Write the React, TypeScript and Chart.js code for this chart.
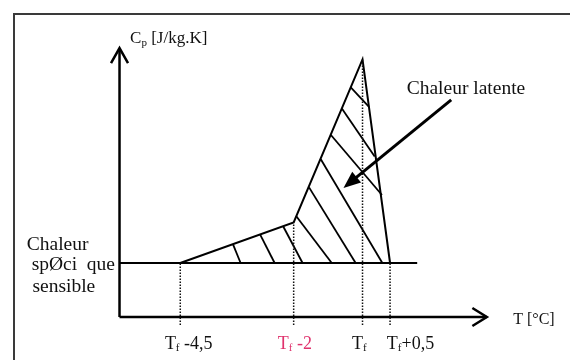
import React, { useEffect, useRef } from "react";
import { Chart, registerables } from "chart.js";

Chart.register(...registerables);

// Schematic positions (temperature offsets from Tf, Cp in arbitrary units)
const curveT = [-4.5, -1.7, 0, 0.68];
const curveCp = [1, 1.75, 4.77, 1];
const sensibleCp = 1;
const baselineT = [-6.0, 1.35];
const axisOriginT = -6.0;
const xAxisEndT = 3.07;
const yAxisEndCp = 4.98;
const dottedBottomCp = -0.15;

const hatchStartT = [-3.2, -2.53, -1.96, -1.63, -1.32, -1.03, -0.78, -0.51, -0.29];
const hatchStartCp = [1.35, 1.53, 1.68, 1.86, 2.4, 2.92, 3.37, 3.86, 4.25];
const hatchEndT = [-3.01, -2.17, -1.48, -0.76, -0.17, 0.49, 0.48, 0.3, 0.16];
const hatchEndCp = [1, 1, 1, 1, 1, 1, 2.26, 2.97, 3.89];

const latentArrowT = [2.19, -0.47];
const latentArrowCp = [4.02, 2.39];

const tickLabelT = [-4.88, -2.09, -0.26, 0.6];
const tickLabelCp = -0.59;
const tickMain = ["T", "T", "T", "T"];
const tickSub = ["f", "f", "f", "f"];
const tickRest = [" -4,5", " -2", "", "+0,5"];
const tickColors = ["#111111", "#e0336d", "#111111", "#111111"];

const yTitleT = -5.74;
const yTitleCp = 5.08;
const xTitle = "T [°C]";
const xTitleT = 3.72;
const xTitleCp = -0.13;

const latentLabel = "Chaleur latente";
const latentLabelT = 1.09;
const latentLabelCp = 4.13;

const sensibleLines = ["Chaleur", "spØci  que", "sensible"];
const sensibleLineT = [-8.29, -8.17, -8.15];
const sensibleLineCp = [1.24, 0.87, 0.46];

const X_MIN = -8.951;
const X_MAX = 5.123;
const Y_MIN = -0.796;
const Y_MAX = 5.87;

const SERIF = '"Liberation Serif", "Times New Roman", serif';

type Run = { text: string; size: number; dy?: number; color?: string };

function drawRuns(ctx: CanvasRenderingContext2D, x: number, y: number, runs: Run[]) {
  let cx = x;
  for (const r of runs) {
    ctx.font = `${r.size}px ${SERIF}`;
    ctx.fillStyle = r.color || "#111111";
    ctx.fillText(r.text, cx, y + (r.dy || 0));
    cx += ctx.measureText(r.text).width;
  }
}

const schematicPlugin = {
  id: "schematic",
  afterDatasetsDraw(chart: any) {
    const { ctx } = chart;
    const xs = chart.scales.x;
    const ys = chart.scales.y;
    const px = (v: number) => xs.getPixelForValue(v);
    const py = (v: number) => ys.getPixelForValue(v);
    ctx.save();
    ctx.strokeStyle = "#000";
    ctx.fillStyle = "#000";
    ctx.lineWidth = 2.5;
    ctx.lineJoin = "miter";

    // Y axis arrowhead
    const yx = px(axisOriginT);
    const yy = py(yAxisEndCp);
    ctx.beginPath();
    ctx.moveTo(yx - 8.5, yy + 15);
    ctx.lineTo(yx, yy);
    ctx.lineTo(yx + 8.5, yy + 15);
    ctx.stroke();

    // X axis arrowhead
    const xx = px(xAxisEndT);
    const xy = py(0);
    ctx.beginPath();
    ctx.moveTo(xx - 14.5, xy - 9);
    ctx.lineTo(xx, xy);
    ctx.lineTo(xx - 14.5, xy + 9);
    ctx.stroke();

    // Latent heat arrow
    const ax0 = px(latentArrowT[0]);
    const ay0 = py(latentArrowCp[0]);
    const ax1 = px(latentArrowT[1]);
    const ay1 = py(latentArrowCp[1]);
    const len = Math.hypot(ax1 - ax0, ay1 - ay0);
    const ux = (ax1 - ax0) / len;
    const uy = (ay1 - ay0) / len;
    const headLen = 17;
    const headHalf = 7;
    const bx = ax1 - ux * headLen;
    const by = ay1 - uy * headLen;
    ctx.lineWidth = 3;
    ctx.beginPath();
    ctx.moveTo(ax0, ay0);
    ctx.lineTo(bx + ux * 2, by + uy * 2);
    ctx.stroke();
    ctx.beginPath();
    ctx.moveTo(ax1, ay1);
    ctx.lineTo(bx - uy * headHalf, by + ux * headHalf);
    ctx.lineTo(bx + uy * headHalf, by - ux * headHalf);
    ctx.closePath();
    ctx.fill();

    // Texts
    ctx.textBaseline = "alphabetic";
    ctx.textAlign = "left";
    drawRuns(ctx, px(yTitleT), py(yTitleCp), [
      { text: "C", size: 17 },
      { text: "p", size: 11, dy: 3 },
      { text: " [J/kg.K]", size: 17 },
    ]);
    drawRuns(ctx, px(xTitleT), py(xTitleCp), [{ text: xTitle, size: 16 }]);
    drawRuns(ctx, px(latentLabelT), py(latentLabelCp), [{ text: latentLabel, size: 19.5 }]);
    sensibleLines.forEach((t, i) => {
      drawRuns(ctx, px(sensibleLineT[i]), py(sensibleLineCp[i]), [{ text: t, size: 19.5 }]);
    });
    tickLabelT.forEach((t, i) => {
      const c = tickColors[i];
      drawRuns(ctx, px(t), py(tickLabelCp), [
        { text: tickMain[i], size: 18, color: c },
        { text: tickSub[i], size: 11, dy: 2, color: c },
        { text: tickRest[i], size: 18, color: c },
      ]);
    });
    ctx.restore();
  },
};

function seg(x0: number, y0: number, x1: number, y1: number, width: number, dash?: number[], color = "#000") {
  return {
    data: [
      { x: x0, y: y0 },
      { x: x1, y: y1 },
    ],
    showLine: true,
    borderColor: color,
    borderWidth: width,
    borderDash: dash || [],
    pointRadius: 0,
    fill: false,
    tension: 0,
    clip: false as any,
  };
}

export default function App() {
  const ref = useRef<HTMLCanvasElement | null>(null);
  useEffect(() => {
    if (!ref.current) return;
    const datasets: any[] = [];
    // dotted verticals
    curveT.forEach((t, i) => datasets.push(seg(t, dottedBottomCp, t, curveCp[i], 1.5, [1.5, 1.5], "#111")));
    // axes
    datasets.push(seg(axisOriginT, 0, axisOriginT, yAxisEndCp, 2.5));
    datasets.push(seg(axisOriginT, 0, xAxisEndT, 0, 2.5));
    // sensible baseline
    datasets.push(seg(baselineT[0], sensibleCp, baselineT[1], sensibleCp, 2));
    // Cp curve
    datasets.push({
      data: curveT.map((t, i) => ({ x: t, y: curveCp[i] })),
      showLine: true,
      borderColor: "#000",
      borderWidth: 2,
      pointRadius: 0,
      fill: false,
      tension: 0,
      borderJoinStyle: "miter",
    });
    // hatching
    hatchStartT.forEach((t, i) =>
      datasets.push(seg(t, hatchStartCp[i], hatchEndT[i], hatchEndCp[i], 1.8))
    );

    const chart = new Chart(ref.current, {
      type: "scatter",
      data: { datasets },
      options: {
        animation: false,
        responsive: false,
        maintainAspectRatio: false,
        layout: { padding: 0 },
        events: [],
        plugins: { legend: { display: false }, tooltip: { enabled: false } },
        scales: {
          x: { type: "linear", display: false, min: X_MIN, max: X_MAX },
          y: { type: "linear", display: false, min: Y_MIN, max: Y_MAX },
        },
      },
      plugins: [schematicPlugin],
    });
    return () => chart.destroy();
  }, []);

  return (
    <div
      style={{
        position: "absolute",
        left: 0,
        top: 0,
        width: 570,
        height: 360,
        overflow: "hidden",
        background: "#fff",
      }}
    >
      <div
        style={{
          position: "absolute",
          left: 13,
          top: 13,
          width: 620,
          height: 420,
          border: "2px solid #3a3a3a",
        }}
      />
      <canvas ref={ref} width={570} height={360} style={{ position: "absolute", left: 0, top: 0 }} />
    </div>
  );
}
